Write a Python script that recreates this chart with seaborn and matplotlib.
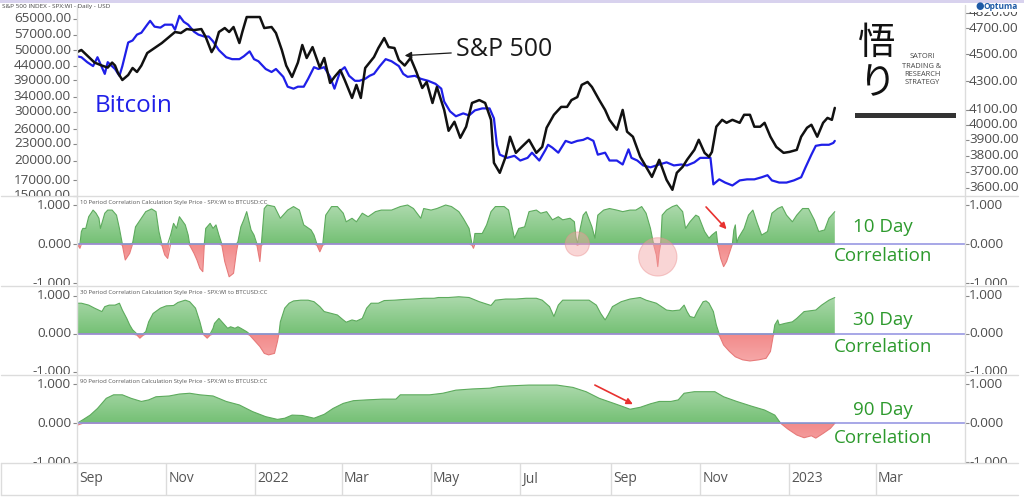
import matplotlib

matplotlib.use("Agg")

import matplotlib.dates as mdates
import matplotlib.pyplot as plt
import matplotlib.transforms as mtransforms
import numpy as np
import pandas as pd
import seaborn as sns
from matplotlib.colors import LinearSegmentedColormap
from matplotlib.lines import Line2D
from matplotlib.patches import PathPatch, Rectangle
from matplotlib.path import Path
from matplotlib.ticker import NullLocator

# ---- data ------------------------------------------------------------------
spx_dates = [
    "2021-09-01", "2021-09-04", "2021-09-08", "2021-09-13", "2021-09-18", "2021-09-22", "2021-09-25",
    "2021-09-27", "2021-09-29", "2021-10-02", "2021-10-06", "2021-10-09", "2021-10-12", "2021-10-15",
    "2021-10-19", "2021-10-24", "2021-10-29", "2021-11-02", "2021-11-07", "2021-11-11", "2021-11-15",
    "2021-11-20", "2021-11-25", "2021-11-28", "2021-12-02", "2021-12-04", "2021-12-07", "2021-12-11",
    "2021-12-14", "2021-12-17", "2021-12-21", "2021-12-23", "2021-12-26", "2021-12-31", "2022-01-04",
    "2022-01-07", "2022-01-12", "2022-01-15", "2022-01-19", "2022-01-22", "2022-01-26", "2022-01-30",
    "2022-02-02", "2022-02-05", "2022-02-09", "2022-02-14", "2022-02-17", "2022-02-21", "2022-02-24",
    "2022-02-28", "2022-03-03", "2022-03-08", "2022-03-11", "2022-03-14", "2022-03-17", "2022-03-23",
    "2022-03-26", "2022-03-30", "2022-04-02", "2022-04-06", "2022-04-09", "2022-04-13", "2022-04-17",
    "2022-04-21", "2022-04-25", "2022-04-28", "2022-05-02", "2022-05-05", "2022-05-10", "2022-05-13",
    "2022-05-17", "2022-05-21", "2022-05-25", "2022-05-29", "2022-06-03", "2022-06-07", "2022-06-11",
    "2022-06-13", "2022-06-17", "2022-06-21", "2022-06-24", "2022-06-28", "2022-07-02", "2022-07-07",
    "2022-07-12", "2022-07-16", "2022-07-19", "2022-07-24", "2022-07-29", "2022-08-02", "2022-08-05",
    "2022-08-09", "2022-08-12", "2022-08-16", "2022-08-19", "2022-08-24", "2022-08-28", "2022-08-31",
    "2022-09-05", "2022-09-09", "2022-09-12", "2022-09-16", "2022-09-21", "2022-09-25", "2022-09-29",
    "2022-10-04", "2022-10-09", "2022-10-13", "2022-10-16", "2022-10-20", "2022-10-23", "2022-10-28",
    "2022-10-31", "2022-11-04", "2022-11-07", "2022-11-09", "2022-11-12", "2022-11-16", "2022-11-19",
    "2022-11-23", "2022-11-28", "2022-12-01", "2022-12-05", "2022-12-08", "2022-12-12", "2022-12-15",
    "2022-12-19", "2022-12-23", "2022-12-28", "2023-01-01", "2023-01-06", "2023-01-09", "2023-01-13",
    "2023-01-16", "2023-01-20", "2023-01-24", "2023-01-27", "2023-01-30", "2023-02-01",
]
spx_close = [
    4515, 4531, 4489, 4437, 4415, 4400, 4437, 4415, 4361, 4310, 4346, 4397, 4368, 4415,
    4508, 4546, 4584, 4622, 4669, 4661, 4692, 4684, 4692, 4630, 4515, 4553, 4669, 4700,
    4669, 4708, 4584, 4669, 4787, 4787, 4787, 4700, 4708, 4661, 4531, 4415, 4332, 4437,
    4569, 4471, 4553, 4400, 4471, 4289, 4332, 4382, 4310, 4183, 4275, 4183, 4397, 4478,
    4546, 4622, 4553, 4546, 4456, 4415, 4471, 4368, 4253, 4296, 4148, 4260, 4100, 3960,
    4020, 3914, 3987, 4148, 4168, 4148, 4033, 3754, 3692, 3792, 3921, 3817, 3855, 3901,
    3817, 3855, 3980, 4067, 4121, 4121, 4168, 4189, 4275, 4296, 4260, 4168, 4100, 4033,
    3967, 4100, 3954, 3921, 3792, 3729, 3667, 3773, 3649, 3589, 3692, 3729, 3773, 3836,
    3901, 3817, 3792, 3823, 3987, 4033, 4013, 4033, 4013, 4067, 4067, 3987, 3987, 4013,
    3921, 3855, 3817, 3823, 3836, 3921, 3980, 4000, 3921, 4013, 4046, 4033, 4114,
]

btc_dates = [
    "2021-09-01", "2021-09-04", "2021-09-08", "2021-09-12", "2021-09-15", "2021-09-20", "2021-09-22",
    "2021-09-27", "2021-09-30", "2021-10-02", "2021-10-06", "2021-10-09", "2021-10-12", "2021-10-15",
    "2021-10-19", "2021-10-21", "2021-10-24", "2021-10-28", "2021-10-31", "2021-11-05", "2021-11-07",
    "2021-11-10", "2021-11-13", "2021-11-16", "2021-11-20", "2021-11-23", "2021-11-27", "2021-11-30",
    "2021-12-03", "2021-12-07", "2021-12-12", "2021-12-16", "2021-12-21", "2021-12-24", "2021-12-28",
    "2021-12-31", "2022-01-03", "2022-01-08", "2022-01-12", "2022-01-15", "2022-01-20", "2022-01-23",
    "2022-01-27", "2022-01-30", "2022-02-03", "2022-02-06", "2022-02-10", "2022-02-13", "2022-02-17",
    "2022-02-21", "2022-02-24", "2022-02-28", "2022-03-03", "2022-03-06", "2022-03-10", "2022-03-13",
    "2022-03-17", "2022-03-20", "2022-03-23", "2022-03-27", "2022-03-31", "2022-04-04", "2022-04-09",
    "2022-04-12", "2022-04-15", "2022-04-20", "2022-04-24", "2022-04-29", "2022-05-04", "2022-05-08",
    "2022-05-10", "2022-05-14", "2022-05-18", "2022-05-23", "2022-05-27", "2022-05-31", "2022-06-05",
    "2022-06-10", "2022-06-13", "2022-06-15", "2022-06-17", "2022-06-22", "2022-06-27", "2022-07-01",
    "2022-07-06", "2022-07-09", "2022-07-14", "2022-07-18", "2022-07-20", "2022-07-23", "2022-07-27",
    "2022-08-01", "2022-08-05", "2022-08-09", "2022-08-13", "2022-08-16", "2022-08-20", "2022-08-23",
    "2022-08-28", "2022-08-31", "2022-09-05", "2022-09-09", "2022-09-13", "2022-09-15", "2022-09-19",
    "2022-09-23", "2022-09-28", "2022-10-04", "2022-10-09", "2022-10-14", "2022-10-19", "2022-10-23",
    "2022-10-28", "2022-11-01", "2022-11-05", "2022-11-08", "2022-11-10", "2022-11-14", "2022-11-18",
    "2022-11-23", "2022-11-28", "2022-12-03", "2022-12-08", "2022-12-13", "2022-12-17", "2022-12-20",
    "2022-12-25", "2022-12-30", "2023-01-04", "2023-01-09", "2023-01-12", "2023-01-16", "2023-01-19",
    "2023-01-23", "2023-01-28", "2023-01-31", "2023-02-01",
]
btc_close = [
    47600, 47250, 45350, 43900, 47250, 41150, 45350, 42850, 40500, 43900, 53400, 54300, 57000, 57900,
    61900, 63900, 60900, 60400, 61900, 61900, 59400, 66600, 63400, 61900, 58400, 57000, 56100, 56100,
    53900, 50100, 47250, 46500, 46500, 47600, 49600, 46500, 45700, 42850, 41800, 42850, 40150, 37000,
    36400, 37000, 37000, 39500, 43500, 42850, 43500, 40150, 36400, 42200, 43500, 40500, 38850, 38850,
    39500, 40500, 41150, 43900, 46500, 45700, 43900, 41150, 40150, 40500, 39500, 38850, 37900, 36400,
    32700, 30150, 28950, 29650, 29150, 30400, 30900, 30900, 28450, 22850, 21050, 20500, 20850, 20050,
    20500, 21400, 20050, 21800, 22850, 22300, 21400, 23600, 23200, 23600, 23800, 24200, 23600, 21050,
    21400, 20050, 20050, 19400, 22000, 20500, 20050, 19250, 18950, 19400, 19750, 19250, 19400, 19250,
    19750, 20500, 20500, 20500, 16450, 17150, 16700, 16300, 17000, 17150, 17150, 17450, 17750, 17000,
    16700, 16700, 17000, 17450, 18950, 21050, 22650, 22850, 22850, 23200, 23600,
]

corr10_dates = [
    "2021-08-31", "2021-09-01", "2021-09-03", "2021-09-04", "2021-09-05", "2021-09-07", "2021-09-09",
    "2021-09-12", "2021-09-14", "2021-09-16", "2021-09-17", "2021-09-20", "2021-09-22", "2021-09-25",
    "2021-09-28", "2021-09-30", "2021-10-02", "2021-10-04", "2021-10-07", "2021-10-09", "2021-10-11",
    "2021-10-15", "2021-10-18", "2021-10-22", "2021-10-25", "2021-10-27", "2021-10-29", "2021-10-31",
    "2021-11-02", "2021-11-04", "2021-11-06", "2021-11-08", "2021-11-10", "2021-11-14", "2021-11-16",
    "2021-11-17", "2021-11-20", "2021-11-22", "2021-11-24", "2021-11-26", "2021-11-27", "2021-11-28",
    "2021-12-01", "2021-12-03", "2021-12-05", "2021-12-07", "2021-12-09", "2021-12-11", "2021-12-14",
    "2021-12-17", "2021-12-19", "2021-12-20", "2021-12-22", "2021-12-24", "2021-12-26", "2021-12-29",
    "2021-12-31", "2022-01-02", "2022-01-04", "2022-01-05", "2022-01-07", "2022-01-09", "2022-01-14",
    "2022-01-18", "2022-01-23", "2022-01-27", "2022-01-31", "2022-02-03", "2022-02-08", "2022-02-10",
    "2022-02-12", "2022-02-14", "2022-02-16", "2022-02-18", "2022-02-22", "2022-02-26", "2022-03-02",
    "2022-03-04", "2022-03-08", "2022-03-11", "2022-03-15", "2022-03-19", "2022-03-24", "2022-03-28",
    "2022-04-04", "2022-04-10", "2022-04-15", "2022-04-19", "2022-04-24", "2022-04-26", "2022-05-01",
    "2022-05-05", "2022-05-11", "2022-05-15", "2022-05-20", "2022-05-23", "2022-05-27", "2022-05-29",
    "2022-05-30", "2022-05-31", "2022-06-05", "2022-06-08", "2022-06-11", "2022-06-14", "2022-06-20",
    "2022-06-23", "2022-06-26", "2022-06-27", "2022-06-30", "2022-07-04", "2022-07-07", "2022-07-12",
    "2022-07-15", "2022-07-19", "2022-07-23", "2022-07-27", "2022-07-30", "2022-08-04", "2022-08-07",
    "2022-08-08", "2022-08-09", "2022-08-11", "2022-08-13", "2022-08-15", "2022-08-19", "2022-08-21",
    "2022-08-23", "2022-08-27", "2022-08-31", "2022-09-05", "2022-09-09", "2022-09-14", "2022-09-18",
    "2022-09-22", "2022-09-25", "2022-09-28", "2022-09-30", "2022-10-02", "2022-10-03", "2022-10-04",
    "2022-10-05", "2022-10-06", "2022-10-09", "2022-10-13", "2022-10-16", "2022-10-20", "2022-10-22",
    "2022-10-25", "2022-10-29", "2022-10-31", "2022-11-04", "2022-11-07", "2022-11-09", "2022-11-12",
    "2022-11-13", "2022-11-15", "2022-11-17", "2022-11-19", "2022-11-22", "2022-11-23", "2022-11-24",
    "2022-11-25", "2022-11-26", "2022-11-27", "2022-12-01", "2022-12-04", "2022-12-07", "2022-12-10",
    "2022-12-13", "2022-12-17", "2022-12-20", "2022-12-24", "2022-12-27", "2022-12-30", "2023-01-03",
    "2023-01-06", "2023-01-10", "2023-01-14", "2023-01-18", "2023-01-21", "2023-01-25", "2023-01-28",
    "2023-02-01",
]
corr10 = [
    0.44, 0.00, -0.11, 0.32, 0.40, 0.40, 0.70, 0.87, 0.79, 0.66, 0.40, 0.79, 0.87, 0.87,
    0.74, 0.40, -0.03, -0.41, -0.24, 0.02, 0.44, 0.66, 0.83, 0.90, 0.83, 0.32, -0.03, -0.28,
    -0.37, 0.23, 0.53, 0.40, 0.70, 0.49, 0.23, -0.03, -0.24, -0.41, -0.62, -0.71, -0.03, 0.40,
    0.53, 0.40, 0.49, 0.23, -0.03, -0.45, -0.84, -0.75, -0.20, 0.06, 0.44, 0.62, 0.83, 0.36,
    0.23, -0.03, -0.45, -0.03, 0.91, 1.00, 0.96, 0.66, 0.87, 0.96, 0.87, 0.49, 0.36, 0.23,
    -0.03, -0.20, -0.03, 0.74, 0.96, 0.96, 0.79, 0.57, 0.66, 0.57, 0.79, 0.70, 0.83, 0.87,
    0.87, 0.96, 1.00, 0.91, 0.66, 0.91, 0.87, 0.91, 1.00, 0.96, 0.83, 0.66, 0.40, -0.03,
    -0.11, 0.27, 0.27, 0.49, 0.83, 0.96, 0.96, 0.87, 0.32, 0.15, 0.40, 0.44, 0.83, 0.87,
    0.79, 0.83, 0.62, 0.70, 0.62, 0.66, 0.57, 0.19, -0.03, 0.40, 0.74, 0.83, 0.44, 0.15,
    0.74, 0.87, 0.91, 0.87, 0.83, 0.87, 0.87, 0.96, 0.79, 0.40, 0.02, -0.28, -0.58, -0.20,
    0.02, 0.74, 0.87, 0.96, 1.00, 0.83, 0.40, 0.57, 0.74, 0.70, 0.32, 0.15, 0.23, 0.32,
    -0.03, -0.37, -0.58, -0.45, -0.11, 0.00, 0.36, 0.49, 0.02, 0.15, 0.40, 0.74, 0.87, 0.53,
    0.23, 0.32, 0.79, 0.91, 0.96, 0.74, 0.57, 0.74, 0.91, 0.91, 0.62, 0.32, 0.36, 0.66,
    0.83,
]

corr30_dates = [
    "2021-08-31", "2021-09-04", "2021-09-09", "2021-09-13", "2021-09-18", "2021-09-20", "2021-09-23",
    "2021-09-27", "2021-09-30", "2021-10-02", "2021-10-05", "2021-10-07", "2021-10-09", "2021-10-12",
    "2021-10-14", "2021-10-16", "2021-10-18", "2021-10-20", "2021-10-23", "2021-10-28", "2021-11-01",
    "2021-11-06", "2021-11-09", "2021-11-14", "2021-11-17", "2021-11-21", "2021-11-24", "2021-11-26",
    "2021-11-29", "2021-12-01", "2021-12-03", "2021-12-04", "2021-12-07", "2021-12-10", "2021-12-13",
    "2021-12-15", "2021-12-18", "2021-12-20", "2021-12-22", "2021-12-26", "2021-12-28", "2021-12-31",
    "2022-01-04", "2022-01-07", "2022-01-10", "2022-01-14", "2022-01-16", "2022-01-17", "2022-01-18",
    "2022-01-21", "2022-01-24", "2022-01-27", "2022-02-01", "2022-02-06", "2022-02-10", "2022-02-14",
    "2022-02-17", "2022-02-22", "2022-02-26", "2022-03-02", "2022-03-04", "2022-03-08", "2022-03-11",
    "2022-03-15", "2022-03-18", "2022-03-21", "2022-03-26", "2022-03-30", "2022-04-06", "2022-04-13",
    "2022-04-19", "2022-04-26", "2022-05-03", "2022-05-06", "2022-05-13", "2022-05-20", "2022-05-27",
    "2022-06-03", "2022-06-11", "2022-06-14", "2022-06-21", "2022-06-28", "2022-07-05", "2022-07-12",
    "2022-07-16", "2022-07-21", "2022-07-24", "2022-07-27", "2022-07-30", "2022-08-06", "2022-08-13",
    "2022-08-17", "2022-08-22", "2022-08-25", "2022-08-28", "2022-08-30", "2022-09-02", "2022-09-08",
    "2022-09-14", "2022-09-21", "2022-09-25", "2022-10-02", "2022-10-09", "2022-10-13", "2022-10-18",
    "2022-10-21", "2022-10-23", "2022-10-25", "2022-10-28", "2022-10-30", "2022-11-03", "2022-11-05",
    "2022-11-07", "2022-11-10", "2022-11-12", "2022-11-14", "2022-11-17", "2022-11-21", "2022-11-25",
    "2022-11-30", "2022-12-05", "2022-12-11", "2022-12-16", "2022-12-19", "2022-12-21", "2022-12-22",
    "2022-12-24", "2022-12-25", "2022-12-29", "2023-01-03", "2023-01-06", "2023-01-11", "2023-01-15",
    "2023-01-19", "2023-01-23", "2023-01-28", "2023-02-01",
]
corr30 = [
    0.81, 0.81, 0.76, 0.68, 0.59, 0.72, 0.76, 0.76, 0.81, 0.63, 0.41, 0.24, 0.11, -0.03,
    -0.11, -0.04, 0.06, 0.32, 0.54, 0.68, 0.74, 0.75, 0.83, 0.89, 0.85, 0.68, 0.32, 0.02,
    -0.11, -0.03, 0.15, 0.28, 0.41, 0.28, 0.15, 0.19, 0.15, 0.19, 0.15, 0.06, -0.03, -0.16,
    -0.33, -0.51, -0.55, -0.51, -0.20, 0.00, 0.32, 0.68, 0.81, 0.87, 0.89, 0.89, 0.85, 0.72,
    0.59, 0.54, 0.50, 0.37, 0.31, 0.37, 0.34, 0.41, 0.68, 0.81, 0.81, 0.88, 0.89, 0.91,
    0.92, 0.94, 0.94, 0.96, 0.96, 0.98, 0.96, 0.85, 0.75, 0.89, 0.92, 0.92, 0.94, 0.94,
    0.89, 0.72, 0.46, 0.76, 0.89, 0.89, 0.89, 0.89, 0.76, 0.54, 0.37, 0.50, 0.72, 0.85,
    0.92, 0.96, 0.89, 0.81, 0.63, 0.61, 0.63, 0.76, 0.59, 0.46, 0.43, 0.59, 0.85, 0.87,
    0.81, 0.59, 0.24, -0.03, -0.29, -0.46, -0.60, -0.68, -0.71, -0.68, -0.64, -0.46, -0.03, 0.24,
    0.37, 0.24, 0.28, 0.32, 0.41, 0.59, 0.61, 0.63, 0.76, 0.89, 0.96,
]

corr90_dates = [
    "2021-09-01", "2021-09-05", "2021-09-10", "2021-09-15", "2021-09-21", "2021-09-26", "2021-10-02",
    "2021-10-08", "2021-10-15", "2021-10-20", "2021-10-25", "2021-11-03", "2021-11-10", "2021-11-17",
    "2021-11-24", "2021-12-03", "2021-12-12", "2021-12-21", "2021-12-30", "2022-01-08", "2022-01-16",
    "2022-01-21", "2022-01-26", "2022-02-02", "2022-02-10", "2022-02-17", "2022-02-23", "2022-03-02",
    "2022-03-09", "2022-03-18", "2022-03-29", "2022-04-07", "2022-04-10", "2022-04-18", "2022-04-30",
    "2022-05-09", "2022-05-18", "2022-05-29", "2022-06-10", "2022-06-16", "2022-06-24", "2022-07-07",
    "2022-07-26", "2022-08-06", "2022-08-15", "2022-08-24", "2022-09-03", "2022-09-09", "2022-09-14",
    "2022-09-21", "2022-09-28", "2022-10-04", "2022-10-12", "2022-10-17", "2022-10-21", "2022-10-28",
    "2022-11-11", "2022-11-17", "2022-11-26", "2022-12-06", "2022-12-15", "2022-12-22", "2022-12-26",
    "2022-12-31", "2023-01-06", "2023-01-11", "2023-01-16", "2023-01-19", "2023-01-24", "2023-01-29",
    "2023-02-01",
]
corr90 = [
    -0.05, 0.09, 0.21, 0.38, 0.64, 0.73, 0.73, 0.64, 0.56, 0.60, 0.68, 0.70, 0.75, 0.77,
    0.73, 0.70, 0.56, 0.47, 0.30, 0.17, 0.10, 0.13, 0.21, 0.20, 0.13, 0.23, 0.38, 0.51,
    0.58, 0.60, 0.62, 0.62, 0.73, 0.73, 0.73, 0.77, 0.85, 0.88, 0.90, 0.94, 0.96, 0.98,
    0.98, 0.92, 0.81, 0.64, 0.51, 0.43, 0.36, 0.41, 0.50, 0.56, 0.56, 0.60, 0.77, 0.81,
    0.81, 0.68, 0.56, 0.44, 0.34, 0.21, 0.00, -0.15, -0.30, -0.37, -0.32, -0.38, -0.26, -0.13,
    0.00,
]

btc_ticks = [65000, 57000, 50000, 44000, 39000, 34000, 30000, 26000, 23000, 20000, 17000, 15000]
spx_ticks = [4820, 4700, 4500, 4300, 4100, 4000, 3900, 3800, 3700, 3600]
corr_ticks = [1.0, 0.0, -1.0]
month_dates = ["2021-09-01", "2021-11-01", "2022-01-01", "2022-03-01", "2022-05-01",
               "2022-07-01", "2022-09-01", "2022-11-01", "2023-01-01", "2023-03-01"]
month_labels = ["Sep", "Nov", "2022", "Mar", "May", "Jul", "Sep", "Nov", "2023", "Mar"]
panel_titles = ["10 Period Correlation Calculation Style Price - SPX:WI to BTCUSD:CC",
                "30 Period Correlation Calculation Style Price - SPX:WI to BTCUSD:CC",
                "90 Period Correlation Calculation Style Price - SPX:WI to BTCUSD:CC"]
panel_names = ["10 Day", "30 Day", "90 Day"]

# ---- styling ----------------------------------------------------------------
sns.set_theme(style="white")
plt.rcParams["font.family"] = ["Open Sans", "DejaVu Sans"]

W, H = 1024, 501
GRID = "#dcdcdc"
LABEL = "#4d4d4d"
GREEN_TXT = "#2d9a2d"


def fx(px):
    return px / W


def fy(py):
    return 1 - py / H


def rect(x0, y0, x1, y1):
    return [fx(x0), fy(y1), (x1 - x0) / W, (y1 - y0) / H]


def num(dates):
    return mdates.date2num(pd.to_datetime(dates))


XLIM = num(["2021-09-01", "2023-05-01"])

fig = plt.figure(figsize=(W / 100, H / 100), dpi=100, facecolor="white")


def side_labels(ax, ticks, fmt, y_top, y_bot, right=False):
    trans = mtransforms.blended_transform_factory(fig.transFigure, ax.transData)
    clip = mtransforms.TransformedBbox(mtransforms.Bbox([[0, fy(y_bot)], [1, fy(y_top)]]), fig.transFigure)
    for t in ticks:
        txt = fig.text(fx(969) if right else fx(71), t, fmt.format(t), transform=trans,
                       ha="left" if right else "right", va="center", fontsize=9.7, color=LABEL)
        txt.set_clip_box(clip)
        txt.set_clip_on(True)


def gradient_fill(ax, x, v, mask, c_zero, c_far, y_far):
    poly = ax.fill_between(x, v, 0, where=mask, interpolate=True, facecolor="none", edgecolor="none")
    paths = poly.get_paths()
    if not paths:
        return
    clip = PathPatch(Path.make_compound_path(*paths), transform=ax.transData, facecolor="none", edgecolor="none")
    ax.add_patch(clip)
    cmap = LinearSegmentedColormap.from_list("shade", [c_zero, c_far])
    grad = np.linspace(0, 1, 256).reshape(-1, 1)
    im = ax.imshow(grad, cmap=cmap, origin="lower", aspect="auto", interpolation="bilinear",
                   extent=(x.min(), x.max(), 0, y_far), zorder=1)
    im.set_clip_path(clip)


def clean(ax):
    ax.set_xlim(*XLIM)
    ax.set(xlabel="", ylabel="")
    ax.tick_params(axis="x", bottom=False, labelbottom=False)
    for s in ax.spines.values():
        s.set_visible(False)


# ---- price panel ------------------------------------------------------------
ax_btc = fig.add_axes(rect(77, 5, 965, 195.5))
ax_spx = ax_btc.twinx()
sns.lineplot(x=num(btc_dates), y=btc_close, ax=ax_btc, color="#1f1fe8", linewidth=1.6)
sns.lineplot(x=num(spx_dates), y=spx_close, ax=ax_spx, color="#111111", linewidth=1.8)
for ax, lim, ticks in ((ax_btc, (15350, 72880), btc_ticks), (ax_spx, (3555, 4884), spx_ticks)):
    ax.set_yscale("log")
    ax.set_ylim(*lim)
    ax.set_yticks(ticks)
    ax.yaxis.set_minor_locator(NullLocator())
    clean(ax)
ax_btc.tick_params(axis="y", left=True, right=False, labelleft=False, length=3, width=0.8, color="#888")
ax_spx.tick_params(axis="y", right=True, left=False, labelright=False, length=3, width=0.8, color="#888")
side_labels(ax_btc, btc_ticks, "{:.2f}", 5, 195.5)
side_labels(ax_spx, spx_ticks, "{:.2f}", 11.5, 195.5, right=True)

ax_btc.text(num(["2021-09-13"])[0], 31650, "Bitcoin", fontsize=17.5, color="#1f1fe8", ha="left", va="center")
ax_spx.annotate("S&P 500", xy=(num(["2022-04-13"])[0], 4489), xytext=(num(["2022-05-18"])[0], 4531),
                fontsize=18, color="#1a1a1a", ha="left", va="center",
                arrowprops=dict(arrowstyle="-|>", color="#1a1a1a", lw=0.9, mutation_scale=10, shrinkA=1, shrinkB=0))

# ---- correlation panels -----------------------------------------------------
panels = [
    ((196, 285), corr10_dates, corr10, (-1.051, 1.231), (0.44, -0.31)),
    ((286, 374), corr30_dates, corr30, (-1.053, 1.263), (0.37, -0.33)),
    ((375, 463), corr90_dates, corr90, (-1.018, 1.238), (0.34, -0.38)),
]
corr_axes = []
for i, ((top, bot), dates, vals, ylim, txt_y) in enumerate(panels):
    ax = fig.add_axes(rect(77, top, 965, bot))
    x = num(dates)
    v = np.asarray(vals, dtype=float)
    gradient_fill(ax, x, v, v >= 0, "#74c074", "#b0dbb0", 1.05)
    gradient_fill(ax, x, v, v <= 0, "#f28a8a", "#f8b4b4", -1.0)
    sns.lineplot(x=x, y=np.maximum(v, 0), ax=ax, color="#5dab5d", linewidth=0.8, zorder=2)
    sns.lineplot(x=x, y=np.minimum(v, 0), ax=ax, color="#e77a7a", linewidth=0.8, zorder=2)
    ax.axhline(0, color="#8f8fe0", linewidth=1.1, zorder=3)
    ax.set_ylim(*ylim)
    ax.set_yticks(corr_ticks)
    clean(ax)
    ax.tick_params(axis="y", left=True, right=True, labelleft=False, labelright=False,
                   length=3, width=0.8, color="#888")
    side_labels(ax, corr_ticks, "{:.3f}", top, bot)
    side_labels(ax, corr_ticks, "{:.3f}", top, bot, right=True)
    ax.annotate(panel_titles[i], (0, 1), xycoords="axes fraction", xytext=(2, -3),
                textcoords="offset points", va="top", ha="left", fontsize=4.3, color="#555555")
    xc = num(["2023-03-06"])[0]
    ax.text(xc, txt_y[0], panel_names[i], fontsize=13.5, color=GREEN_TXT, ha="center", va="center", zorder=6)
    ax.text(xc, txt_y[1], "Correlation", fontsize=13.5, color=GREEN_TXT, ha="center", va="center", zorder=6)
    corr_axes.append(ax)

ax10, ax30, ax90 = corr_axes
ax10.scatter(num(["2022-08-09", "2022-10-03"]), [0.0, -0.33], s=[300, 760], color="#f3a3a3",
             alpha=0.45, edgecolor="#ea8f8f", linewidth=0.8, zorder=4)
red_arrow = dict(arrowstyle="-|>", color="#e8312f", lw=1.2, mutation_scale=9, shrinkA=0, shrinkB=0)
ax10.annotate("", xy=(num(["2022-11-19"])[0], 0.38), xytext=(num(["2022-11-05"])[0], 0.95), arrowprops=red_arrow)
ax90.annotate("", xy=(num(["2022-09-16"])[0], 0.49), xytext=(num(["2022-08-21"])[0], 0.98), arrowprops=red_arrow)

# ---- date band --------------------------------------------------------------
ax_d = fig.add_axes(rect(77, 463, 965, 495))
ax_d.set_xlim(*XLIM)
ax_d.set_ylim(0, 1)
ax_d.axis("off")
for d, lab in zip(num(month_dates), month_labels):
    ax_d.axvline(d, color=GRID, linewidth=1)
    ax_d.annotate(lab, (d, 0.5), xytext=(1.5, 0), textcoords="offset points",
                  ha="left", va="center", fontsize=10, color="#555555")

# ---- frame lines and decorations -------------------------------------------
for py in (195.5, 285.5, 374.5, 463, 495):
    fig.add_artist(Line2D([fx(1), fx(1018)], [fy(py)] * 2, transform=fig.transFigure, color=GRID, lw=1))
for px, y0, y1 in ((77, 5, 495), (965, 5, 463), (1, 463, 495)):
    fig.add_artist(Line2D([fx(px)] * 2, [fy(y0), fy(y1)], transform=fig.transFigure, color=GRID, lw=1))
fig.add_artist(Rectangle((0, fy(2.5)), 1, 2.5 / H, transform=fig.transFigure, color="#d8d2ee", lw=0))
fig.text(fx(2), fy(6.5), "S&P 500 INDEX - SPX:WI - Daily - USD", fontsize=4.6, color="#444444", va="center")
fig.text(fx(975), fy(6.5), "●", fontsize=7, color="#1d5aa6", va="center", family=["DejaVu Sans"])
fig.text(fx(984), fy(6.5), "Optuma", fontsize=6, color="#1d5aa6", va="center", weight="bold")

fig.text(fx(877), fy(43), "悟", fontsize=27, color="#111111", ha="center", va="center",
         family=["Noto Sans CJK JP", "DejaVu Sans"])
fig.text(fx(877), fy(84), "り", fontsize=27, color="#111111", ha="center", va="center",
         family=["Noto Sans CJK JP", "DejaVu Sans"])
for line, py in zip(["SATORI", "TRADING &", "RESEARCH", "STRATEGY"], [57, 66, 74.5, 83]):
    fig.text(fx(922), fy(py), line, fontsize=5.3, color="#444444", ha="center", va="center")
fig.add_artist(Rectangle((fx(855), fy(118)), (956 - 855) / W, 4.5 / H, transform=fig.transFigure,
                         color="#333333", lw=0))

fig.savefig("out.png", dpi=100)
